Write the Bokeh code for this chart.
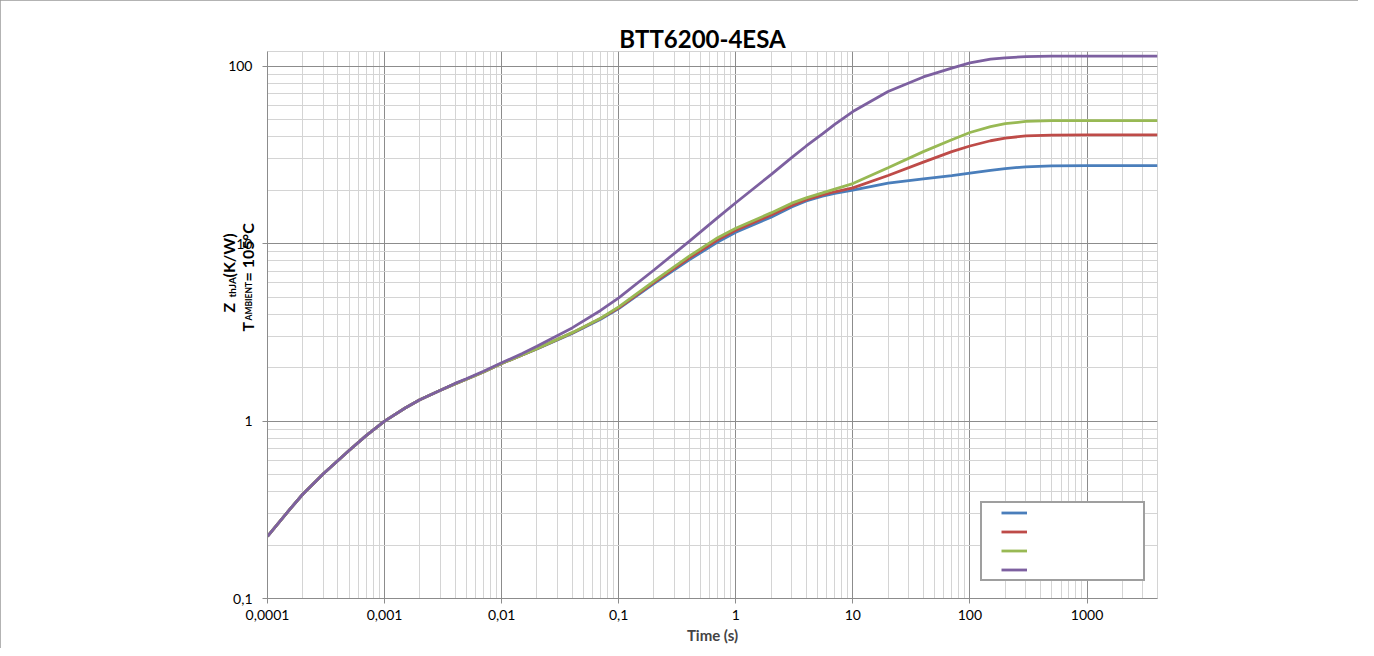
import math
from bokeh.plotting import figure
from bokeh.models import FixedTicker, Label, Legend, LegendItem, Range1d
from bokeh.embed import file_html
from bokeh.resources import INLINE

# ---------------- data ----------------
time_s = [0.0001, 0.00015, 0.0002, 0.0003, 0.0004, 0.0005, 0.0007, 0.001, 0.0015,
          0.002, 0.003, 0.004, 0.005, 0.007, 0.01, 0.015, 0.02, 0.04, 0.07, 0.1,
          0.2, 0.4, 0.7, 1, 2, 3, 4, 5.5, 7, 10, 20, 40, 70,
          100, 150, 200, 300, 500, 1000, 4000]

zth_blue = [0.224, 0.31, 0.387, 0.505, 0.60, 0.685, 0.83, 1.0, 1.185,
            1.32, 1.49, 1.62, 1.72, 1.89, 2.11, 2.36, 2.55, 3.12, 3.75, 4.3,
            5.95, 8.1, 10.2, 11.6, 14.1, 16.1, 17.4, 18.5, 19.2, 20.0, 21.9, 23.2, 24.2,
            25.0, 25.9, 26.5, 27.1, 27.4, 27.5, 27.5]
zth_red = [0.224, 0.31, 0.387, 0.505, 0.60, 0.685, 0.83, 1.0, 1.185,
           1.32, 1.49, 1.62, 1.72, 1.89, 2.11, 2.36, 2.56, 3.14, 3.78, 4.35,
           6.05, 8.3, 10.5, 11.9, 14.5, 16.4, 17.7, 18.8, 19.6, 20.6, 24.2, 28.8, 33.0,
           35.5, 38.0, 39.3, 40.5, 40.9, 41.0, 41.0]
zth_green = [0.224, 0.31, 0.387, 0.505, 0.60, 0.685, 0.83, 1.0, 1.185,
             1.32, 1.49, 1.62, 1.72, 1.89, 2.11, 2.36, 2.56, 3.15, 3.8, 4.4,
             6.15, 8.5, 10.8, 12.2, 14.9, 16.9, 18.1, 19.3, 20.3, 21.8, 26.8, 33.0, 38.5,
             42.3, 45.6, 47.4, 48.8, 49.3, 49.4, 49.4]
zth_purple = [0.224, 0.31, 0.387, 0.505, 0.60, 0.685, 0.83, 1.0, 1.185,
              1.32, 1.49, 1.63, 1.73, 1.91, 2.13, 2.40, 2.64, 3.35, 4.2, 4.95,
              7.1, 10.3, 14.0, 17.0, 24.5, 30.5, 35.5, 41.5, 47.0, 55.5, 72.0, 87.0, 97.5,
              104.5, 109.5, 111.5, 113.2, 113.9, 114.0, 114.0]

series = [zth_blue, zth_red, zth_green, zth_purple]
series_colors = ["#4A7EBB", "#BE4B48", "#98B954", "#7D60A0"]

x_ticks = [0.0001, 0.001, 0.01, 0.1, 1, 10, 100, 1000]
x_tick_labels = ["0,0001", "0,001", "0,01", "0,1", "1", "10", "100", "1000"]
y_ticks = [0.1, 1, 10, 100]
y_tick_labels = ["0,1", "1", "10", "100"]

X_MIN, X_MAX = 0.0001, 4000
Y_MIN, Y_MAX = 0.1, 121

title_text = "BTT6200-4ESA"
x_label = "Time (s)"

FONT = "Lato"
GRID_MAJOR = "#8c8c8c"
GRID_MINOR = "#d4d4d4"

# ---------------- figure ----------------
W, H = 1358, 648
ML, MR, MT, MB = 267, 201, 51, 50
FRAME_W = W - ML - MR
FRAME_H = H - MT - MB

p = figure(width=W, height=H, x_axis_type="log", y_axis_type="log",
           x_range=Range1d(X_MIN, X_MAX), y_range=Range1d(Y_MIN, Y_MAX),
           output_backend="svg", toolbar_location=None,
           min_border_left=ML, min_border_right=MR,
           min_border_top=MT, min_border_bottom=MB)
p.styles = {"box-shadow": "inset 2px 0 0 0 #9a9a9a, inset 0 2px 0 0 #9a9a9a, inset -2px 0 0 0 #9a9a9a"}

x_minor = [m * 10.0 ** e for e in range(-4, 4) for m in range(2, 10) if m * 10.0 ** e <= X_MAX]
y_minor = [m * 10.0 ** e for e in range(-1, 3) for m in range(2, 10) if m * 10.0 ** e <= Y_MAX]

p.xaxis.ticker = FixedTicker(ticks=x_ticks, minor_ticks=x_minor)
p.yaxis.ticker = FixedTicker(ticks=y_ticks, minor_ticks=y_minor)
p.xaxis.major_label_overrides = dict(zip(x_ticks, x_tick_labels))
p.yaxis.major_label_overrides = dict(zip(y_ticks, y_tick_labels))

for ax in (p.xaxis, p.yaxis):
    ax.axis_line_color = GRID_MAJOR
    ax.axis_line_width = 1
    ax.major_tick_line_color = GRID_MAJOR
    ax.major_tick_out = 5
    ax.major_tick_in = 0
    ax.minor_tick_out = 0
    ax.minor_tick_in = 0
    ax.major_label_text_font = FONT
    ax.major_label_text_font_size = "14px"
    ax.major_label_text_color = "#000000"

p.xaxis.major_label_standoff = 6
p.yaxis.major_label_standoff = 10
p.xaxis.axis_label = x_label
p.xaxis.axis_label_text_font = FONT
p.xaxis.axis_label_text_font_size = "15px"
p.xaxis.axis_label_text_font_style = "bold"
p.xaxis.axis_label_standoff = 3

for g in (p.xgrid, p.ygrid):
    g.grid_line_color = GRID_MAJOR
    g.grid_line_width = 1
    g.minor_grid_line_color = GRID_MINOR
    g.minor_grid_line_width = 1

p.outline_line_color = GRID_MINOR
p.background_fill_color = "white"
p.border_fill_color = "white"

renderers = []
for vals, col in zip(series, series_colors):
    r = p.line(time_s, vals, line_color=col, line_width=2.8)
    renderers.append(r)

legend = Legend(items=[LegendItem(label=" ", renderers=[r]) for r in renderers],
                location=(713, 17), orientation="vertical",
                padding=0, margin=0, spacing=0,
                glyph_width=26, glyph_height=19, label_height=19,
                label_width=116, label_standoff=0,
                title=" ", title_location="left",
                title_text_font_size="10px", title_standoff=8,
                border_line_color="#404040", border_line_width=2,
                background_fill_color="white", background_fill_alpha=1.0)
p.add_layout(legend)

# ---------------- texts outside the frame, placed in side panels ----------------
# positions given in page pixels (text centre line), converted to the plot's log data space
PAGE_FRAME_L = ML
PAGE_FRAME_B = H - MB
PX_PER_DEC_X = FRAME_W / (math.log10(X_MAX) - math.log10(X_MIN))
PX_PER_DEC_Y = FRAME_H / (math.log10(Y_MAX) - math.log10(Y_MIN))


def dx(px):
    return 10 ** (math.log10(X_MIN) + (px - PAGE_FRAME_L) / PX_PER_DEC_X)


def dy(py):
    return 10 ** (math.log10(Y_MIN) + (PAGE_FRAME_B - py) / PX_PER_DEC_Y)


# chart title
p.add_layout(Label(x=dx(702), y=dy(38), x_units="data", y_units="data",
                   text=title_text, text_align="center", text_baseline="middle",
                   text_font=FONT, text_font_size="24px", text_font_style="bold",
                   text_color="#000000"), "above")

# rotated y-axis title with subscripts: (text, centre x, start y, size)
y_label_parts = [
    ("Z", 227.7, 312, "16px"),
    ("thJA", 231.5, 297, "10px"),
    ("(K/W)", 227.7, 277, "16px"),
    ("T", 247.0, 331, "16px"),
    ("AMBIENT", 248.5, 320, "8.5px"),
    ("= 105°C", 247.0, 281, "16px"),
]
for txt, cx, sy, fs in y_label_parts:
    p.add_layout(Label(x=dx(cx), y=dy(sy), x_units="data", y_units="data",
                       text=txt, angle=math.pi / 2,
                       text_align="left", text_baseline="middle",
                       text_font=FONT, text_font_size=fs, text_font_style="bold",
                       text_color="#000000"), "left")

open("out.html", "w").write(file_html(p, INLINE))
